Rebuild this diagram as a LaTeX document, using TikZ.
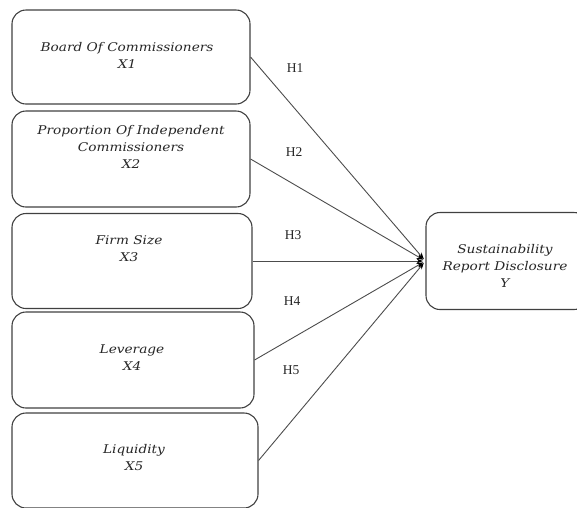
\documentclass[tikz,border=0pt]{standalone}
\usepackage{fontspec}
\setmainfont{DejaVu Serif}[FakeStretch=1.14]
\newfontfamily\labfont{Liberation Serif}
\usetikzlibrary{arrows.meta}
\begin{document}
\begin{tikzpicture}[x=1pt,y=-1pt,
  vbox/.style={draw=black!75, line width=1.1pt, rounded corners=14pt, inner sep=0pt},
  boxtext/.style={font=\fontsize{12}{17}\selectfont\itshape, align=center, inner sep=0pt, text=black!85},
  hlab/.style={font=\labfont\fontsize{13.5}{15}\selectfont, inner sep=0pt, text=black!85},
  link/.style={draw=black!70, line width=0.9pt, -{Stealth[length=6.5pt,width=5pt,black]}, shorten >=2.5pt}]
\useasboundingbox (0,0) rectangle (577,507);
% boxes
\node[vbox, minimum width=238pt, minimum height=94pt] (b1) at (131,57) {};
\node[vbox, minimum width=238pt, minimum height=96pt] (b2) at (131,159) {};
\node[vbox, minimum width=240pt, minimum height=95pt] (b3) at (132,261) {};
\node[vbox, minimum width=242pt, minimum height=96pt] (b4) at (133,360) {};
\node[vbox, minimum width=246pt, minimum height=95pt] (b5) at (135,460.5) {};
\node[vbox, minimum width=162pt, minimum height=97pt] (y) at (507,261) {};
% texts
\node[boxtext] (t1) at (127,55) {Board Of Commissioners\\X1};
\node[boxtext] (t2) at (131,147) {Proportion Of Independent\\Commissioners\\X2};
\node[boxtext] (t3) at (129,249) {Firm Size\\X3};
\node[boxtext] (t4) at (132,358) {Leverage\\X4};
\node[boxtext] (t5) at (134,458) {Liquidity\\X5};
\node[boxtext] (ty) at (505,266) {Sustainability\\Report Disclosure\\Y};
% hypothesis labels
\node[hlab] (h1) at (295,68) {H1};
\node[hlab] (h2) at (294,152) {H2};
\node[hlab] (h3) at (293,235) {H3};
\node[hlab] (h4) at (292,301) {H4};
\node[hlab] (h5) at (291,370) {H5};
% connectors
\draw[link] (b1.east) -- (y.west);
\draw[link] (b2.east) -- (y.west);
\draw[link] (b3.east) -- (y.west);
\draw[link] (b4.east) -- (y.west);
\draw[link] (b5.east) -- (y.west);
\end{tikzpicture}
\end{document}
